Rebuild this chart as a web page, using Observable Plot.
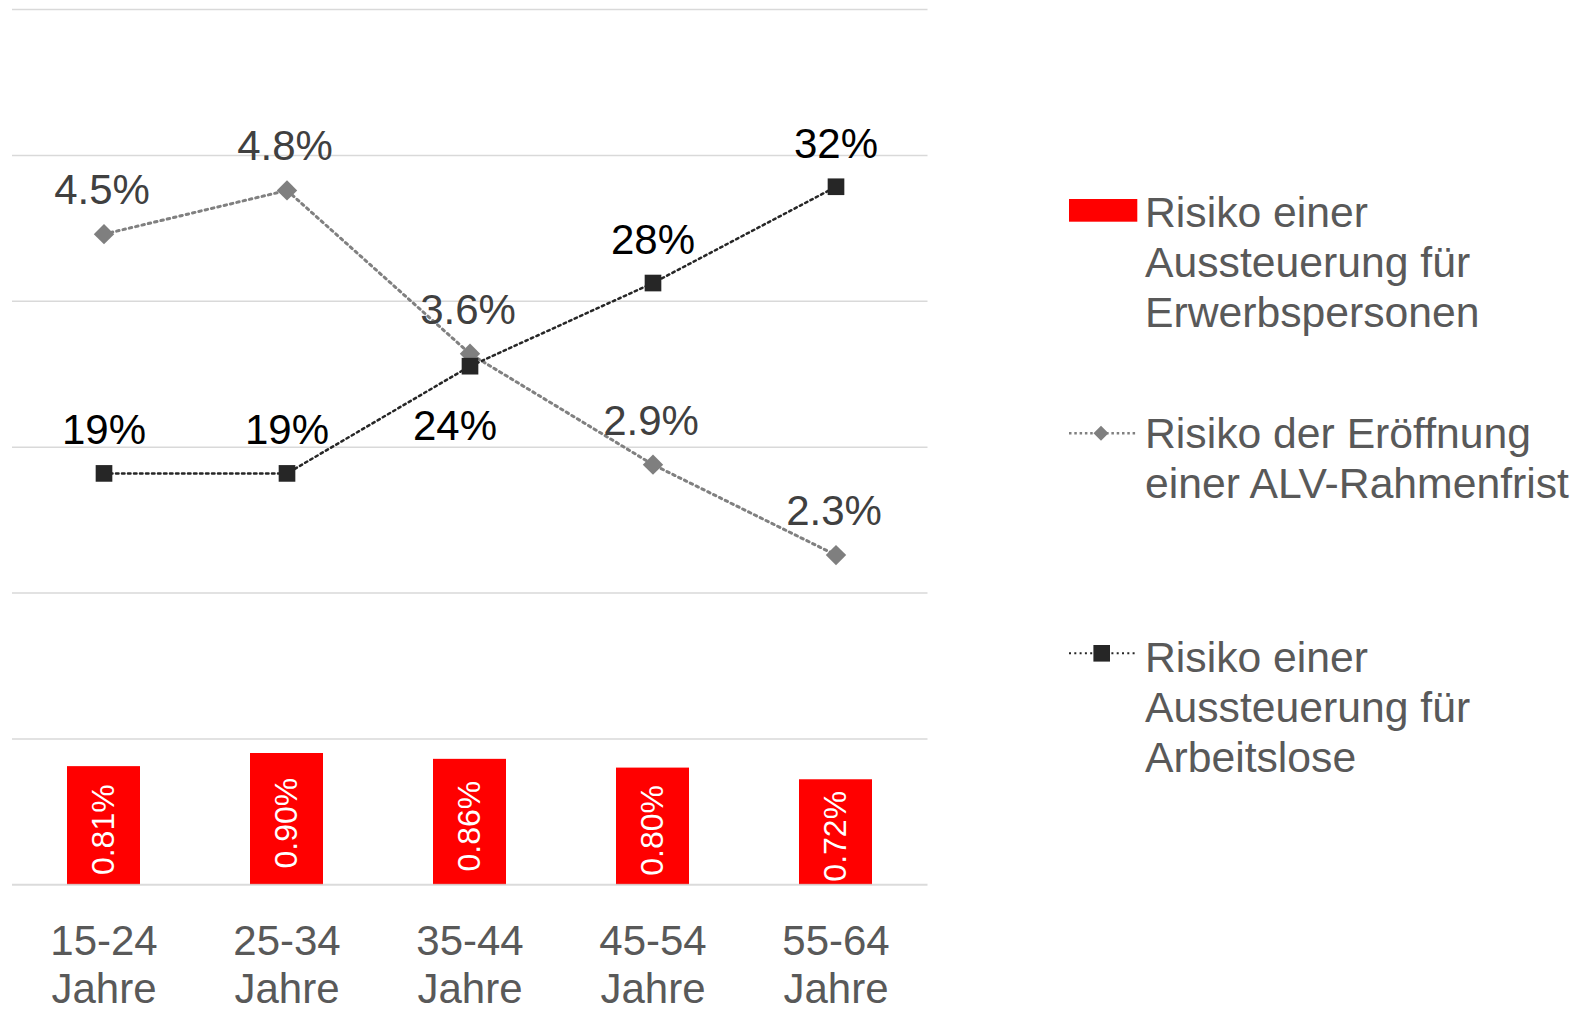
<!DOCTYPE html>
<html>
<head>
<meta charset="utf-8">
<script src="https://cdn.jsdelivr.net/npm/d3@7"></script>
<script src="https://cdn.jsdelivr.net/npm/@observablehq/plot@0.6"></script>
<style>
  html, body { margin: 0; padding: 0; background: #ffffff; }
  #wrap { position: relative; width: 1586px; height: 1009px; overflow: hidden; font-family: "Liberation Sans", Arial, sans-serif; }
  #chart { position: absolute; left: 0; top: 0; }
  #legend { position: absolute; left: 1040px; top: 0; }
</style>
</head>
<body>
<div id="wrap">
  <div id="chart"></div>
  <svg id="legend" width="546" height="1009"></svg>
</div>
<script>
// ---- data ----
const categories = ["15-24 Jahre", "25-34 Jahre", "35-44 Jahre", "45-54 Jahre", "55-64 Jahre"];
// Risiko einer Aussteuerung für Erwerbspersonen (%), primary axis
const barValues = [0.81, 0.90, 0.86, 0.80, 0.72];
// Risiko der Eröffnung einer ALV-Rahmenfrist (%), primary axis
const greyValues = [4.46, 4.76, 3.64, 2.88, 2.26];
// Risiko einer Aussteuerung für Arbeitslose (%), secondary axis
const blackValues = [18.8, 18.8, 23.7, 27.5, 31.9];
const primaryTicks = [0, 1, 2, 3, 4, 5, 6];
const secondaryDomain = [0, 40];
const legendLabels = [
  ["Risiko einer", "Aussteuerung für", "Erwerbspersonen"],
  ["Risiko der Eröffnung", "einer ALV-Rahmenfrist"],
  ["Risiko einer", "Aussteuerung für", "Arbeitslose"]
];

// ---- build ----
const rows = categories.map((c, i) => ({cat: c, bar: barValues[i], grey: greyValues[i], black: blackValues[i]}));
const primaryMax = primaryTicks[primaryTicks.length - 1];
const toPrimary = v => (v - secondaryDomain[0]) / (secondaryDomain[1] - secondaryDomain[0]) * primaryMax;
const belowCat = categories[2];

const chart = Plot.plot({
  width: 930,
  height: 1009,
  marginLeft: 12,
  marginRight: 2.5,
  marginTop: 9,
  marginBottom: 124.7,
  style: {fontFamily: "'Liberation Sans', Arial, sans-serif", background: "transparent", overflow: "visible"},
  x: {domain: categories, paddingInner: 0.6, paddingOuter: 0.3},
  y: {domain: [0, primaryMax], axis: null},
  marks: [
    Plot.gridY(primaryTicks.filter(t => t > 0), {stroke: "#d9d9d9", strokeOpacity: 1, strokeWidth: 1.5}),
    Plot.barY(rows, {x: "cat", y: "bar", fill: "#ff0000"}),
    Plot.gridY(primaryTicks.filter(t => t === 0), {stroke: "#c8c8c8", strokeOpacity: 0.65, strokeWidth: 2}),
    Plot.text(rows, {x: "cat", y: d => d.bar / 2, text: d => d.bar.toFixed(2) + "%", rotate: -90, fill: "#ffffff", fontSize: 32, dy: 4}),
    Plot.line(rows, {x: "cat", y: "grey", stroke: "#808080", strokeWidth: 3, strokeDasharray: "2.5 4"}),
    Plot.line(rows, {x: "cat", y: d => toPrimary(d.black), stroke: "#262626", strokeWidth: 2.5, strokeDasharray: "2.5 3.5"}),
    Plot.dot(rows, {x: "cat", y: "grey", symbol: "diamond2", r: 9.2, fill: "#7f7f7f"}),
    Plot.dot(rows, {x: "cat", y: d => toPrimary(d.black), symbol: "square", r: 9.4, fill: "#262626"}),
    Plot.text(rows, {x: "cat", y: "grey", text: d => d.grey.toFixed(1) + "%", lineAnchor: "bottom", dy: -30, dx: -2, fontSize: 42, fill: "#404040"}),
    Plot.text(rows.filter(d => d.cat !== belowCat), {x: "cat", y: d => toPrimary(d.black), text: d => Math.round(d.black) + "%", lineAnchor: "bottom", dy: -29, fontSize: 42, fill: "#000000"}),
    Plot.text(rows.filter(d => d.cat === belowCat), {x: "cat", y: d => toPrimary(d.black), text: d => Math.round(d.black) + "%", lineAnchor: "bottom", dy: 74, dx: -15, fontSize: 42, fill: "#000000"}),
    Plot.axisX({tickSize: 0, tickPadding: 36.6, fontSize: 42, lineHeight: 1.14, color: "#595959", tickFormat: d => d.replace(" ", "\n"), label: null})
  ]
});
document.getElementById("chart").appendChild(chart);

// ---- legend ----
const ox = 1040;
const L = d3.select("#legend");
const font = "'Liberation Sans', Arial, sans-serif";
const textX = 1145 - ox;
function legendText(lines, firstBaseline) {
  const t = L.append("text")
    .attr("x", textX)
    .attr("y", firstBaseline)
    .attr("fill", "#595959")
    .attr("font-size", 42.7)
    .attr("font-family", font);
  lines.forEach((s, i) => {
    t.append("tspan").attr("x", textX).attr("y", firstBaseline + i * 50).text(s);
  });
}
// item 1: bar swatch
L.append("rect").attr("x", 1069 - ox).attr("y", 199).attr("width", 68.3).attr("height", 22.7).attr("fill", "#ff0000");
legendText(legendLabels[0], 226.7);
// item 2: grey dotted line with diamond
L.append("line").attr("x1", 1069 - ox).attr("x2", 1137 - ox).attr("y1", 433.3).attr("y2", 433.3)
  .attr("stroke", "#808080").attr("stroke-width", 2.5).attr("stroke-dasharray", "2.5 2.8");
L.append("path").attr("transform", `translate(${1101 - ox},433.3)`)
  .attr("d", "M0,-7.5L7.5,0L0,7.5L-7.5,0Z").attr("fill", "#7f7f7f");
legendText(legendLabels[1], 448.3);
// item 3: black dotted line with square
L.append("line").attr("x1", 1069 - ox).attr("x2", 1137 - ox).attr("y1", 653.3).attr("y2", 653.3)
  .attr("stroke", "#262626").attr("stroke-width", 2).attr("stroke-dasharray", "2 3.3");
L.append("rect").attr("x", 1101.7 - ox - 8.3).attr("y", 653.3 - 8.3).attr("width", 16.6).attr("height", 16.6).attr("fill", "#262626");
legendText(legendLabels[2], 671.7);
</script>
</body>
</html>
